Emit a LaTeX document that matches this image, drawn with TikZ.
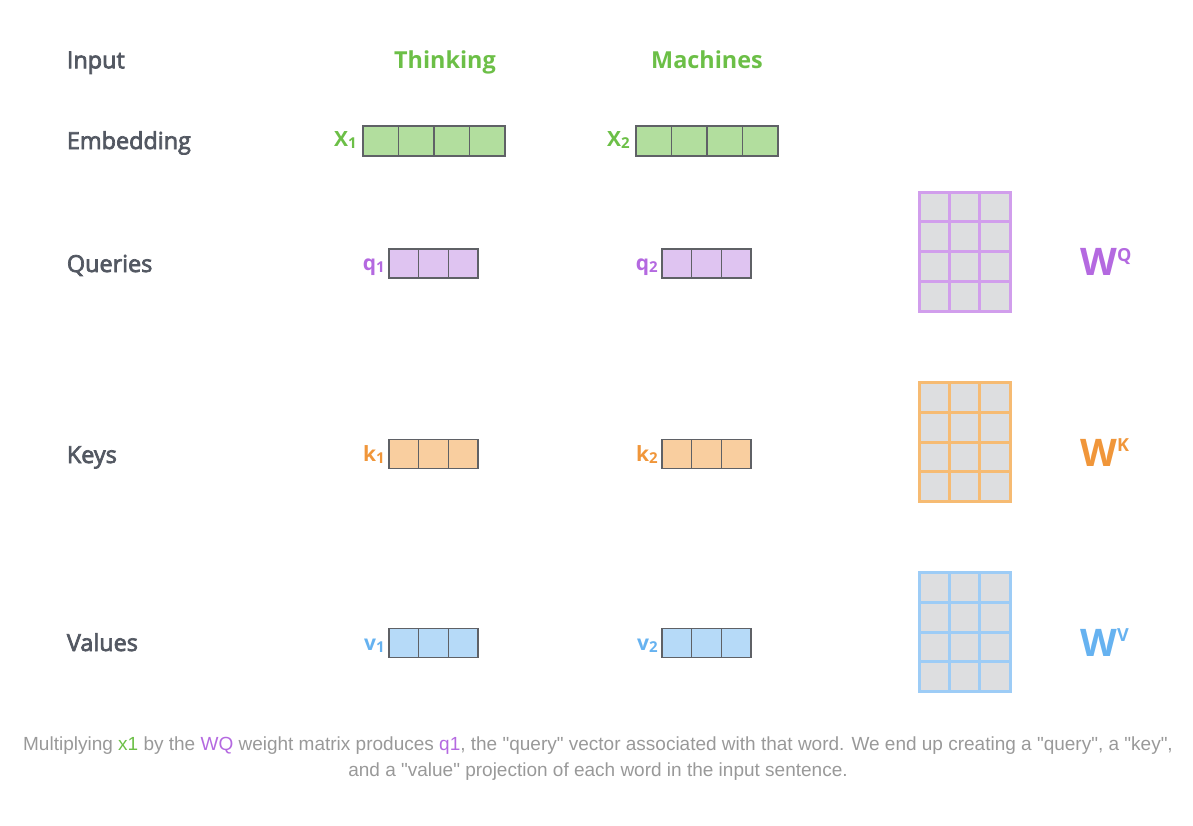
\documentclass[tikz,border=0pt]{standalone}
\usepackage{fontspec}
\setmainfont{Open Sans}
\newfontfamily\semifont[FakeBold=3]{Open Sans}
\newfontfamily\captionfont{Liberation Sans}
\usepackage{xcolor}
\usetikzlibrary{positioning}

\definecolor{labelgray}{HTML}{535862}
\definecolor{captiongray}{HTML}{999999}
\definecolor{wordgreen}{HTML}{6CBF47}
\definecolor{embfill}{HTML}{B2DE9E}
\definecolor{purpletext}{HTML}{B469E0}
\definecolor{purplefill}{HTML}{DFC4F1}
\definecolor{purpleline}{HTML}{D19EEC}
\definecolor{orangetext}{HTML}{F0963A}
\definecolor{orangefill}{HTML}{F9CE9F}
\definecolor{orangeline}{HTML}{F6BB73}
\definecolor{bluetext}{HTML}{66B2F0}
\definecolor{bluefill}{HTML}{B6DAF8}
\definecolor{blueline}{HTML}{9DCCF6}
\definecolor{cellgray}{HTML}{5F6166}
\definecolor{wgray}{HTML}{DDDEE0}

% letter with small lowered index, letter with small raised index
\newcommand{\vsub}[2]{#1\raisebox{-0.9pt}{\fontsize{7.5}{8}\selectfont\bfseries #2}}
\newcommand{\wsup}[1]{W\raisebox{7.2pt}{\fontsize{9}{9}\selectfont\bfseries #1}}

\tikzset{
    rowlabel/.style={anchor=base west, inner sep=0, text=labelgray, font=\semifont\fontsize{11.7}{14}\selectfont},
    wordlabel/.style={anchor=base, inner sep=0, text=wordgreen, font=\bfseries\fontsize{11.7}{14}\selectfont},
    veclabel/.style={anchor=base east, inner sep=0, font=\bfseries\fontsize{10.5}{12}\selectfont},
    embcell/.style={draw=cellgray, fill=embfill, line width=0.6pt, minimum width=17.75pt, minimum height=15pt, inner sep=0, outer sep=0},
    veccell/.style={draw=cellgray, line width=0.6pt, minimum width=14.83pt, minimum height=14.5pt, inner sep=0, outer sep=0},
    wcell/.style={fill=wgray, line width=1.5pt, minimum width=15.17pt, minimum height=14.87pt, inner sep=0, outer sep=0},
    wlabel/.style={anchor=base west, inner sep=0, font=\bfseries\fontsize{19}{20}\selectfont},
    captiontext/.style={text=captiongray, font=\captionfont\fontsize{9.5}{13}\selectfont, align=center}
}

\begin{document}
\begin{tikzpicture}[x=0.5pt, y=-0.5pt]
    \useasboundingbox (0,0) rectangle (1193,825);

    % row labels
    \node[rowlabel] (input) at (66.5,68.3) {Input};
    \node[rowlabel] (embedding) at (66.5,149) {Embedding};
    \node[rowlabel] (queries) at (66.5,272) {Queries};
    \node[rowlabel] (keys) at (66.5,463) {Keys};
    \node[rowlabel] (values) at (66.5,651) {Values};

    % input words
    \node[wordlabel] (thinking) at (445,68.3) {Thinking};
    \node[wordlabel] (machines) at (707,68.3) {Machines};

    % embeddings
    \foreach \n/\xl in {1/363, 2/636} {
        \foreach \i in {1,...,4}
            \node[embcell] (x\n-\i) at ({\xl+35.5*(\i-0.5)},141) {};
        \node[veclabel, text=wordgreen] (xlab\n) at ([xshift=-3pt, yshift=-2.8pt]x\n-1.west) {\vsub{X}{\n}};
    }

    % queries, keys, values
    \foreach \r/\y/\c/\f in {q/263.5/purpletext/purplefill, k/454/orangetext/orangefill, v/643/bluetext/bluefill} {
        \foreach \n/\xl in {1/389, 2/662} {
            \foreach \i in {1,2,3}
                \node[veccell, fill=\f] (\r\n-\i) at ({\xl+29.67*(\i-0.5)},\y) {};
            \node[veclabel, text=\c] (\r lab\n) at ([xshift=-2pt, yshift=-3.6pt]\r\n-1.west) {\vsub{\r}{\n}};
        }
    }

    % weight matrices
    \foreach \m/\y/\c/\t in {Q/251.5/purpleline/purpletext, K/442/orangeline/orangetext, V/632/blueline/bluetext} {
        \foreach \row in {1,...,4}
            \foreach \col in {1,2,3}
                \node[wcell, draw=\c] (W\m-\row-\col) at ({919+30.33*(\col-0.5)},{\y-59.5+29.75*(\row-0.5)}) {};
        \node[wlabel, text=\t] (W\m-lab) at (1080,{\y+24}) {\wsup{\m}};
    }

    % caption
    \node[captiontext] (caption) at (598,759) {Multiplying {\color{wordgreen}x1} by the {\color{purpletext}WQ} weight matrix produces {\color{purpletext}q1}, the "query" vector associated with that word. We end up creating a "query", a "key",\\ and a "value" projection of each word in the input sentence.};
\end{tikzpicture}
\end{document}
